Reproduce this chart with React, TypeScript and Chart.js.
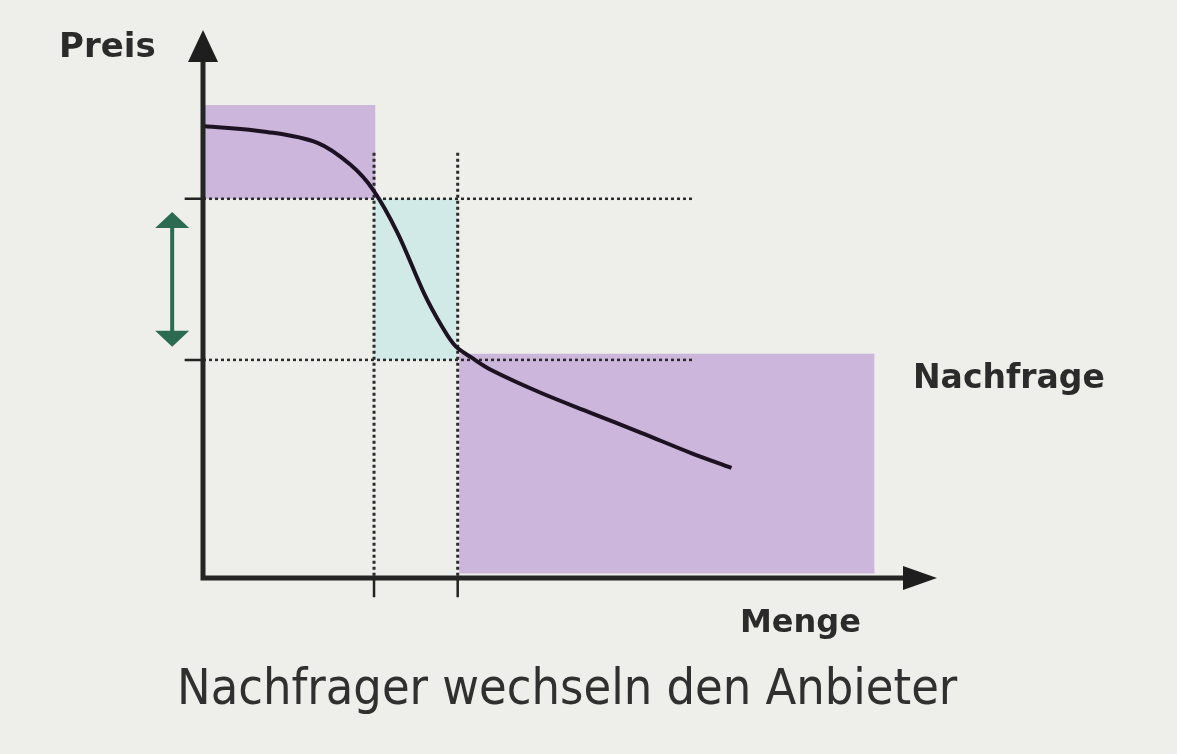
import React, { useEffect, useRef } from "react";
import { Chart, registerables } from "chart.js";

Chart.register(...registerables);

// Demand curve (Menge, Preis) in abstract units
const curveQ = [0, 8.7, 15.6, 20.1, 23.2, 26.5, 30.1, 32.6, 34.4, 36.5, 39.2, 46.0, 52.9, 59.7, 66.5, 72.0];
const curveP = [82.5, 81.4, 79.4, 75.4, 70.8, 63.0, 52.0, 45.8, 42.3, 40.3, 38.0, 33.8, 30.1, 26.5, 22.8, 20.1];

// price levels (high, low) and quantity levels (low, high)
const priceLevels = [69.2, 39.8];
const quantityLevels = [23.3, 34.7];

// shaded areas
const upperRectQ = [0, 23.5];
const upperRectP = [69.2, 86.3];
const lowerRectQ = [34.9, 91.5];
const lowerRectP = [0.8, 40.9];

// guide extents
const guideQRange = [-2.5, 66.9];
const guidePRange = [-3.5, 77.6];

// price-change arrow
const arrowQ = -4.2;
const arrowP = [42.2, 66.8];

const labels = {
  yAxis: "Preis",
  xAxis: "Menge",
  curve: "Nachfrage",
  title: "Nachfrager wechseln den Anbieter",
};

const PURPLE = "rgba(202,178,218,0.95)";
const TEAL = "rgba(207,233,232,0.95)";
const DOT = "#2a2a2a";

function rectDataset(qs: number[], ps: number[], color: string) {
  return {
    data: [
      { x: qs[0], y: ps[1] },
      { x: qs[1], y: ps[1] },
    ],
    showLine: true,
    borderWidth: 0,
    borderColor: "rgba(0,0,0,0)",
    backgroundColor: color,
    pointRadius: 0,
    fill: { value: ps[0] },
    clip: false,
    order: 10,
  };
}

function tri(ctx: CanvasRenderingContext2D, tx: number, ty: number, dx: number, dy: number, len: number, hw: number) {
  const bx = tx - dx * len;
  const by = ty - dy * len;
  const nx = -dy;
  const ny = dx;
  ctx.beginPath();
  ctx.moveTo(tx, ty);
  ctx.lineTo(bx + nx * hw, by + ny * hw);
  ctx.lineTo(bx - nx * hw, by - ny * hw);
  ctx.closePath();
  ctx.fill();
}

const decor = {
  id: "decor",
  afterDatasetsDraw(chart: any) {
    const { ctx, scales } = chart;
    const px = (v: number) => scales.x.getPixelForValue(v);
    const py = (v: number) => scales.y.getPixelForValue(v);
    ctx.save();

    // solid ticks for guide lines
    ctx.strokeStyle = "#222";
    ctx.lineWidth = 2.5;
    ctx.beginPath();
    priceLevels.forEach((p) => {
      ctx.moveTo(px(guideQRange[0]), py(p));
      ctx.lineTo(px(0), py(p));
    });
    quantityLevels.forEach((q) => {
      ctx.moveTo(px(q), py(0));
      ctx.lineTo(px(q), py(guidePRange[0]));
    });
    ctx.stroke();

    // axes
    ctx.strokeStyle = "#252525";
    ctx.fillStyle = "#1e1e1e";
    ctx.lineWidth = 5;
    ctx.beginPath();
    ctx.moveTo(px(0), py(0) + 2.5);
    ctx.lineTo(px(0), py(95));
    ctx.moveTo(px(0) - 2.5, py(0));
    ctx.lineTo(px(96), py(0));
    ctx.stroke();
    tri(ctx, px(0), py(100), 0, -1, 32, 15);
    tri(ctx, px(100), py(0), 1, 0, 34, 12);

    // green double arrow
    const gx = px(arrowQ);
    ctx.strokeStyle = "#2c6b52";
    ctx.fillStyle = "#2c6b52";
    ctx.lineWidth = 4;
    ctx.beginPath();
    ctx.moveTo(gx, py(arrowP[0]) - 10);
    ctx.lineTo(gx, py(arrowP[1]) + 10);
    ctx.stroke();
    tri(ctx, gx, py(arrowP[1]), 0, -1, 16, 17);
    tri(ctx, gx, py(arrowP[0]), 0, 1, 16, 17);

    // texts
    ctx.fillStyle = "#2b2b2b";
    ctx.font = 'bold 34px "DejaVu Sans"';
    ctx.textAlign = "left";
    ctx.textBaseline = "alphabetic";
    ctx.fillText(labels.yAxis, px(0) - 144, py(0) - 521);
    ctx.font = 'bold 33px "DejaVu Sans"';
    ctx.fillText(labels.curve, px(0) + 710, py(0) - 190);
    ctx.font = 'bold 32px "DejaVu Sans"';
    ctx.fillText(labels.xAxis, px(0) + 537, py(0) + 54);
    ctx.fillStyle = "#303030";
    ctx.font = '50px "DejaVu Sans Condensed", "Liberation Sans Narrow", sans-serif';
    ctx.fillText(labels.title, px(0) - 26, py(0) + 126);
    ctx.restore();
  },
};

export default function App() {
  const ref = useRef<HTMLCanvasElement | null>(null);

  useEffect(() => {
    document.body.style.margin = "0";
    const curve = curveQ.map((q, i) => ({ x: q, y: curveP[i] }));
    const dotted = {
      showLine: true,
      borderColor: DOT,
      borderWidth: 3,
      borderDash: [3, 3],
      pointRadius: 0,
      fill: false,
      clip: false,
      order: 2,
    };
    const datasets: any[] = [
      {
        data: curve,
        showLine: true,
        borderColor: "#1c1222",
        borderWidth: 4,
        pointRadius: 0,
        tension: 0.35,
        fill: false,
        clip: false,
        order: 0,
      },
      ...priceLevels.map((p) => ({
        ...dotted,
        borderWidth: 2.5,
        data: [
          { x: 0, y: p },
          { x: guideQRange[1], y: p },
        ],
      })),
      ...quantityLevels.map((q) => ({
        ...dotted,
        data: [
          { x: q, y: guidePRange[1] },
          { x: q, y: 0 },
        ],
      })),
      rectDataset(upperRectQ, upperRectP, PURPLE),
      rectDataset(lowerRectQ, lowerRectP, PURPLE),
      rectDataset(quantityLevels, priceLevels.slice().reverse(), TEAL),
    ];

    const chart = new Chart(ref.current as HTMLCanvasElement, {
      type: "scatter",
      data: { datasets },
      options: {
        animation: false,
        responsive: false,
        devicePixelRatio: 1,
        layout: { padding: { left: 203, right: 240, top: 30, bottom: 176 } },
        plugins: { legend: { display: false }, tooltip: { enabled: false } },
        scales: {
          x: { type: "linear", min: 0, max: 100, display: false },
          y: { type: "linear", min: 0, max: 100, display: false },
        },
      } as any,
      plugins: [decor],
    });
    return () => chart.destroy();
  }, []);

  return (
    <div style={{ width: 1177, height: 754, background: "#eeefea" }}>
      <canvas ref={ref} width={1177} height={754} style={{ display: "block" }} />
    </div>
  );
}
